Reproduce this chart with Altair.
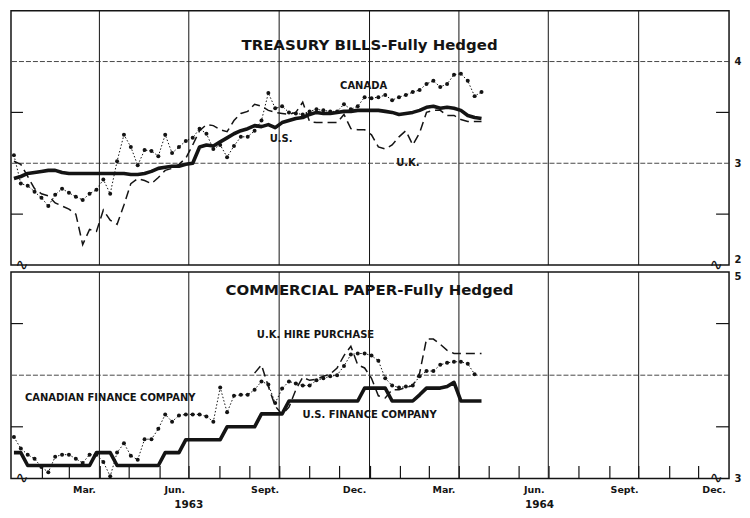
import altair as alt
import pandas as pd

# ---------------- data (Friday figures, weekly from 4 Jan 1963) ----------------
first_friday = "1963-01-04"
weeks = list(range(69))

# Treasury bills - fully hedged
tb_us = [2.85, 2.87, 2.90, 2.91, 2.92, 2.93, 2.93, 2.91, 2.90, 2.90,
         2.90, 2.90, 2.90, 2.90, 2.90, 2.90, 2.90, 2.89, 2.89, 2.90,
         2.92, 2.95, 2.96, 2.97, 2.97, 2.99, 3.00, 3.16, 3.18, 3.17,
         3.21, 3.25, 3.29, 3.32, 3.34, 3.37, 3.36, 3.38, 3.35, 3.40,
         3.42, 3.44, 3.45, 3.48, 3.50, 3.49, 3.49, 3.50, 3.51, 3.51,
         3.52, 3.52, 3.52, 3.52, 3.51, 3.50, 3.48, 3.49, 3.50, 3.52,
         3.55, 3.56, 3.54, 3.55, 3.54, 3.52, 3.47, 3.45, 3.44]
tb_canada = [3.08, 2.80, 2.78, 2.72, 2.66, 2.58, 2.69, 2.75, 2.71, 2.67,
             2.64, 2.70, 2.74, 2.84, 2.70, 3.02, 3.28, 3.16, 2.98, 3.13,
             3.12, 3.07, 3.28, 3.10, 3.16, 3.22, 3.25, 3.34, 3.29, 3.14,
             3.18, 3.06, 3.17, 3.26, 3.26, 3.32, 3.42, 3.69, 3.54, 3.56,
             3.50, 3.49, 3.48, 3.51, 3.53, 3.52, 3.51, 3.51, 3.58, 3.53,
             3.56, 3.65, 3.64, 3.65, 3.67, 3.62, 3.65, 3.67, 3.70, 3.72,
             3.78, 3.81, 3.75, 3.78, 3.87, 3.88, 3.81, 3.66, 3.70]
tb_uk = [3.02, 2.99, 2.87, 2.75, 2.70, 2.68, 2.61, 2.58, 2.55, 2.50,
         2.20, 2.35, 2.33, 2.54, 2.44, 2.40, 2.59, 2.80, 2.85, 2.83,
         2.80, 2.86, 2.93, 2.95, 2.99, 3.05, 3.18, 3.32, 3.38, 3.37,
         3.33, 3.31, 3.42, 3.49, 3.51, 3.58, 3.56, 3.52, 3.50, 3.49,
         3.48, 3.50, 3.60, 3.41, 3.40, 3.40, 3.40, 3.40, 3.48, 3.34,
         3.33, 3.33, 3.28, 3.16, 3.14, 3.18, 3.26, 3.32, 3.18, 3.30,
         3.50, 3.52, 3.52, 3.47, 3.47, 3.43, 3.41, 3.41, 3.41]

# Commercial paper - fully hedged
cp_us_fin = [3.25, 3.25, 3.125, 3.125, 3.125, 3.125, 3.125, 3.125, 3.125, 3.125,
             3.125, 3.125, 3.25, 3.25, 3.25, 3.125, 3.125, 3.125, 3.125, 3.125,
             3.125, 3.125, 3.25, 3.25, 3.25, 3.375, 3.375, 3.375, 3.375, 3.375,
             3.375, 3.5, 3.5, 3.5, 3.5, 3.5, 3.625, 3.625, 3.625, 3.625,
             3.75, 3.75, 3.75, 3.75, 3.75, 3.75, 3.75, 3.75, 3.75, 3.75,
             3.75, 3.875, 3.875, 3.875, 3.875, 3.75, 3.75, 3.75, 3.75, 3.81,
             3.875, 3.875, 3.875, 3.89, 3.93, 3.75, 3.75, 3.75, 3.75]
cp_can_fin = [3.40, 3.29, 3.23, 3.19, 3.11, 3.06, 3.21, 3.23, 3.23, 3.19,
              3.15, 3.23, 3.23, 3.16, 3.02, 3.25, 3.34, 3.22, 3.18, 3.38,
              3.38, 3.48, 3.62, 3.55, 3.61, 3.62, 3.62, 3.62, 3.60, 3.55,
              3.88, 3.64, 3.80, 3.81, 3.81, 3.86, 3.94, 3.91, 3.73, 3.87,
              3.94, 3.92, 3.90, 3.90, 3.95, 3.97, 3.99, 4.00, 4.09, 4.20,
              4.21, 4.21, 4.19, 4.14, 3.97, 3.90, 3.88, 3.89, 3.90, 3.99,
              4.04, 4.04, 4.10, 4.12, 4.13, 4.13, 4.11, 4.01, None]
cp_uk_hp = [None] * 35 + [
              4.02, 4.10, 3.89, 3.70, 3.62, 3.69, 3.86, 3.98, 3.95, 3.96,
              3.99, 4.01, 4.07, 4.19, 4.28, 4.10, 4.07, 3.97, 3.80, 3.78,
              3.86, 3.86, 3.88, 3.90, 4.02, 4.35, 4.35, 4.30, 4.24, 4.21,
              4.21, 4.21, 4.21, 4.21]

quarter_lines = ["1963-04-01", "1963-07-01", "1963-10-01", "1964-01-01",
                 "1964-04-01", "1964-07-01", "1964-10-01"]

top_labels = [("CANADA", "1963-12-26", 3.76), ("U.S.", "1963-10-03", 3.24),
              ("U.K.", "1964-02-09", 3.00)]
bottom_labels = [("U.K. HIRE PURCHASE", "1963-11-07", 4.39),
                 ("CANADIAN FINANCE COMPANY", "1963-04-12", 3.78),
                 ("U.S. FINANCE COMPANY", "1964-01-01", 3.61)]
top_title = ("TREASURY BILLS-Fully Hedged", "1964-01-01", 4.16)
bottom_title = ("COMMERCIAL PAPER-Fully Hedged", "1964-01-01", 4.83)
year_labels = [("1963", "1963-07-01"), ("1964", "1964-06-22")]

# ---------------- helpers ----------------
W, H_TOP, H_BOT = 720, 255, 207
FONT = "DejaVu Sans"
INK = "#141414"
dates = pd.to_datetime(first_friday) + pd.to_timedelta([7 * w for w in weeks], unit="D")


def series_df(vals):
    rows = [{"date": d, "value": v} for d, v in zip(dates, vals) if v is not None]
    return pd.DataFrame(rows)


xscale = alt.Scale(domain=[alt.DateTime(year=1963, month=1, date=1),
                           alt.DateTime(year=1965, month=1, date=1)])


def panel(ydomain, major, minor, series_layers, labels, title, right_vals,
          flush_bottom, flush_top, x_axis):
    yscale = alt.Scale(domain=ydomain, nice=False, zero=False)
    y_axis = alt.Axis(orient="right", values=right_vals, grid=False, ticks=False,
                      domain=False, format="d", labelFont=FONT, labelFontWeight="bold",
                      labelFontSize=10, labelColor=INK, labelPadding=5,
                      labelBaseline={"condition": [
                          {"test": f"datum.value == {flush_bottom}", "value": "bottom"},
                          {"test": f"datum.value == {flush_top}", "value": "top"}],
                          "value": "middle"},
                      title=None)

    def X():
        return alt.X("date:T", scale=xscale, axis=x_axis, title=None)

    def Y():
        return alt.Y("value:Q", scale=yscale, axis=y_axis, title=None)

    vgrid = alt.Chart(pd.DataFrame({"date": pd.to_datetime(quarter_lines)})).mark_rule(
        color=INK, strokeWidth=1).encode(x=X())
    hgrid = alt.Chart(pd.DataFrame({"value": major})).mark_rule(
        color="#333", strokeWidth=0.9, strokeDash=[5, 2]).encode(y=Y())
    mdf = pd.DataFrame({"value": minor})
    ltick = alt.Chart(mdf).mark_rule(color=INK, strokeWidth=1.2).encode(
        y=Y(), x=alt.value(0), x2=alt.value(12))
    rtick = alt.Chart(mdf).mark_rule(color=INK, strokeWidth=1.2).encode(
        y=Y(), x=alt.value(W - 13), x2=alt.value(W))

    layers = [vgrid, hgrid, ltick, rtick]

    for df, kind in series_layers:
        if kind == "thick":
            m = alt.Chart(df).mark_line(color=INK, strokeWidth=3.6, strokeJoin="round")
        elif kind == "dash":
            m = alt.Chart(df).mark_line(color=INK, strokeWidth=1.5, strokeDash=[9, 5])
        else:
            m = alt.Chart(df).mark_line(
                color=INK, strokeWidth=1.0, strokeDash=[1.5, 2],
                point=alt.OverlayMarkDef(filled=True, color=INK, size=16))
        layers.append(m.encode(x=X(), y=Y()))

    ldf = pd.DataFrame([{"text": t, "date": pd.Timestamp(d), "value": v} for t, d, v in labels])
    layers.append(alt.Chart(ldf).mark_text(font=FONT, fontWeight="bold", fontSize=10,
                                           color=INK).encode(x=X(), y=Y(), text="text:N"))

    tdf = pd.DataFrame([{"text": title[0], "date": pd.Timestamp(title[1]), "value": title[2]}])
    layers.append(alt.Chart(tdf).mark_text(font=FONT, fontWeight="bold", fontSize=15,
                                           color=INK).encode(x=X(), y=Y(), text="text:N"))

    bdf = pd.DataFrame({"date": pd.to_datetime(["1963-01-12", "1964-12-19"]),
                        "value": [ydomain[0], ydomain[0]], "text": ["∿", "∿"]})
    layers.append(alt.Chart(bdf).mark_text(font=FONT, fontSize=16, color=INK,
                                           baseline="middle").encode(
        x=X(), y=Y(), text="text:N"))
    return layers, X


top_layers, _ = panel(
    [2, 4.5], [3, 4], [2.5, 3.5],
    [(series_df(tb_us), "thick"), (series_df(tb_uk), "dash"),
     (series_df(tb_canada), "dot")],
    top_labels, top_title, [2, 3, 4], 2, 99, None)
top = alt.layer(*top_layers).properties(width=W, height=H_TOP)

month_ticks = [alt.DateTime(year=y, month=m, date=1)
               for y in (1963, 1964) for m in range(1, 13) if not (y == 1963 and m == 1)]
label_expr = ("month(datum.value) == 2 ? 'Mar.' : month(datum.value) == 5 ? 'Jun.' : "
              "month(datum.value) == 8 ? 'Sept.' : month(datum.value) == 11 ? 'Dec.' : ''")
bottom_axis = alt.Axis(values=month_ticks, labelExpr=label_expr, tickSize=13, offset=-13,
                       domain=False, grid=False, tickColor=INK, tickWidth=1.2,
                       labelOffset=15, labelPadding=6, labelFont=FONT,
                       labelFontWeight="bold", labelFontSize=9.5, labelColor=INK,
                       labelOverlap=False, labelFlush=False, labelBound=False, title=None)

bot_layers, Xb = panel(
    [3, 5], [4], [3.5, 4.5],
    [(series_df(cp_us_fin), "thick"), (series_df(cp_uk_hp), "dash"),
     (series_df(cp_can_fin), "dot")],
    bottom_labels, bottom_title, [3, 4, 5], 99, 5, bottom_axis)

ydf = pd.DataFrame([{"text": t, "date": pd.Timestamp(d)} for t, d in year_labels])
bot_layers.append(alt.Chart(ydf).mark_text(font=FONT, fontWeight="bold", fontSize=10.5,
                                           color=INK).encode(
    x=Xb(), y=alt.value(H_BOT + 27), text="text:N"))
bottom = alt.layer(*bot_layers).properties(width=W, height=H_BOT)

chart = alt.vconcat(top, bottom, spacing=7, bounds="flush").properties(
    padding={"left": 1, "top": 0, "right": 0, "bottom": 0},
    background="white",
).configure_view(stroke=INK, strokeWidth=1.5)

chart.save("out.html", embed_options={"renderer": "svg", "actions": False})
